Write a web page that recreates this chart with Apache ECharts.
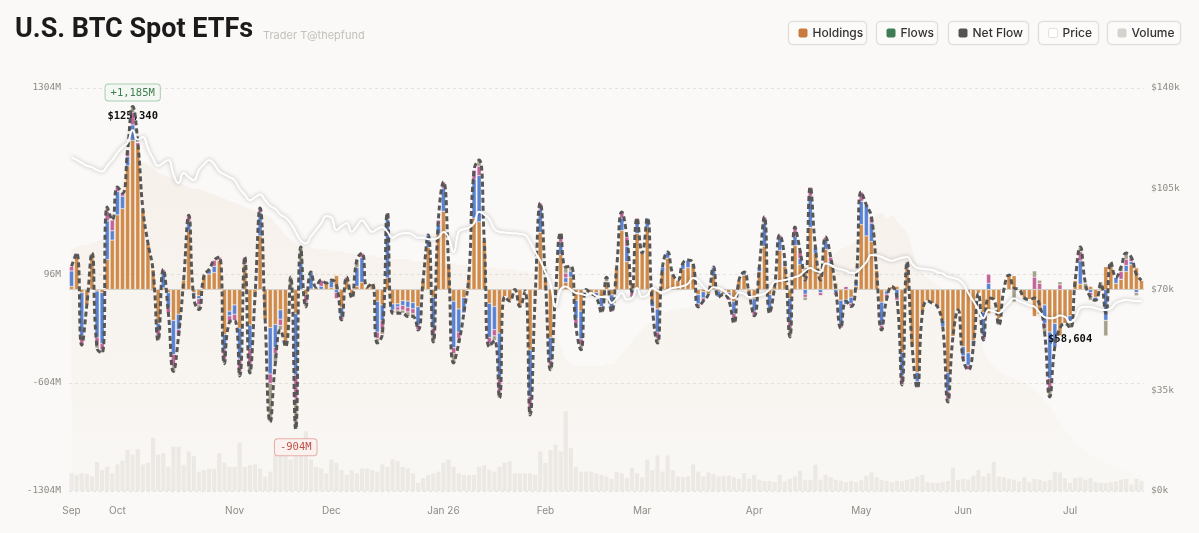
<!DOCTYPE html>
<html>
<head>
<meta charset="utf-8">
<script src="https://cdn.jsdelivr.net/npm/echarts@6/dist/echarts.min.js"></script>
<style>
html, body { margin: 0; padding: 0; background: #faf9f7; }
#chart { width: 1199px; height: 533px; }
</style>
</head>
<body>
<div id="chart"></div>
<script>
// trading days from the first session, skipping weekends and these holidays
const startDate = "2025-09-18"
const holidays = ["2025-11-27", "2025-12-25", "2026-01-01", "2026-01-19", "2026-02-16", "2026-04-03", "2026-05-25", "2026-06-19", "2026-07-03"]
const monthNames = ["Jan 26", "Feb", "Mar", "Apr", "May", "Jun", "Jul", "Aug", "Sep", "Oct", "Nov", "Dec"]

// left axis ticks (M) and right axis step (k)
const flowTicks = [-1304, -604, 96, 1304]
const priceStep = 35

// net flow per day, $M
const netFlow = [
	150, 236, -360, -100, 236, -380, -410, 534, 450, 663, 624, 900, 1185, 950, 520, 300, 120, -330, 130, -150,
	-530, -300, 60, 480, -60, -130, 90, 130, 190, 210, -480, -210, -200, -560, 210,
	-540, -50, 527, -197, -857, -476, -262, -370, 81, -904, 275, -113, 113, 16, 61, 42, 61, 30, -197, 81,
	-55, 191, 236, 16, 40, -346, -290, 495, -153, -153, -153, -175, -175, -262, 60,
	353, -340, 450, 696, 171, -476, -346, -153, 100, 773, 838, 320, -370, -330, -702, -47, -75, 0, -110, -10,
	-812, -47, 560, 61, -520, -25, 366, 146, 150, -240, -390, 0, -25, -50, -150, 80,
	-145, 146, 502, 340, -15, 463, 236, 463, -113, -346, 146, 243, 100, 61, 171, 191, 171, -113, -75, -30,
	146, -50, -30, -70, -217, 60, 113, -30, -170, 146, 470, -153, 20, 353, 190, -307, 404,
	250, 61, 663, 275, 61, 340, 210, 0, -250, -75, -110, 61, 631, 547, 470, 126, -262, -60, 20, -50,
	-618, 178, -370, -637, -153, -75, -90, -113, -240, -728, -305, -133, -450, -520, -370, -25,
	-327, -55, -65, -230, 0, 94, 10, 0, -55, -65, -55, -100, -280, -695, -370, -250, -220, -250, 60, 275,
	40, -50, -70, 40, -153, 178, 80, 146, 236, 210, 100, 60
]
// blue slice
const fbtc = [
	100, 0, -280, 0, 0, -300, -330, 250, 60, 150, 80, 60, 100, 0, 0, 0, 0, -40, 100, -100,
	-220, -100, 0, 60, -20, -20, 0, 30, 40, 0, -100, -30, -60, -200, 0,
	-150, 0, 150, 0, -300, -150, -60, 0, 0, -400, 180, 0, 110, 0, 20, 0, 50, -20, -60, 0,
	0, 120, 160, 0, 0, -200, -100, 380, -40, -20, -30, -40, -40, -120, 0,
	80, -200, 60, 150, 0, -300, -150, -100, 0, 250, 300, 0, -220, -150, -300, 0, 0, 0, 0, 0,
	-300, 0, 150, 0, -150, 0, 80, 30, 40, -120, -180, 0, 0, -30, -60, 0,
	-80, 0, 80, 100, -20, 80, 0, 60, -40, -150, 30, 40, 0, 0, 40, 50, 0, -60, -40, 0,
	60, -40, 0, -30, -80, 0, 20, 0, -80, 30, 150, -100, 0, 80, 40, -150, 60,
	40, -30, 200, 40, -20, 60, 30, -20, -150, -30, -40, 40, 150, 200, 120, 0, -150, -20, 0, -50,
	-150, 20, 0, -60, 0, 0, 0, 0, -40, -120, 0, 0, -60, -80, -40, 0,
	-150, 40, 0, 0, 0, 0, 0, 0, 0, 0, 0, 0, -120, -300, -150, 0, 0, -40, 0, 150,
	0, -20, -20, 0, -200, 0, 40, 0, 40, 20, -20, 0
]
// pink slice
const arkb = [
	30, 20, -60, 0, 0, -50, -40, 60, 70, 30, 20, 40, 80, 20, 0, 0, 0, -40, 20, -30,
	-80, -40, 0, 40, -20, -40, 0, 0, 40, 20, -60, -40, -40, -80, 50,
	-120, 0, 30, 0, -60, -40, -40, 0, 0, -150, 0, -50, 0, 0, 40, 0, 0, -40, -20, 20,
	0, 0, 30, 0, 0, -40, -60, 40, -20, -20, -30, -30, -30, -30, 0,
	0, -40, 30, 40, 0, -40, -40, 0, 0, 60, 60, 0, -40, -40, -80, 0, 0, 0, 0, 0,
	-80, 0, 40, 0, -30, 0, 40, 30, 0, -30, -40, 0, 0, 0, -20, 0,
	-30, 0, 40, 60, -30, 20, 0, 0, 0, -40, 0, 0, 0, 0, 0, 0, 0, -20, -20, 0,
	0, 0, 0, -20, -40, 0, 0, 0, -30, 0, 40, -20, 0, 20, 0, -60, 60,
	50, -20, 60, 0, -20, 20, 30, -20, -30, 20, -20, 0, 60, 0, 40, 0, -30, -30, 0, -20,
	-60, 0, 0, -40, 0, 0, 0, 0, 0, -50, 0, 0, -20, -30, 0, 0,
	-30, 60, 0, 0, 0, 0, 0, 0, 0, 0, 80, 40, -30, -80, 0, 30, 0, 0, 0, 60,
	0, -20, 0, 0, 0, 0, 0, 50, 40, 30, 0, 0
]
// grey slice
const gbtc = [
	0, 0, 0, 0, 0, -20, -20, 30, 0, 0, 0, 0, 40, 0, 0, 0, -10, -30, 0, 0,
	-30, 0, 0, 0, 0, -30, 0, 0, 0, 0, -30, 0, 0, -30, 0,
	-40, 0, 0, 0, -250, -60, -30, 0, 81, -200, 100, -30, 0, 0, 0, 0, 0, 0, 0, 0,
	0, 50, 0, 0, 0, -30, -30, 0, 0, -20, -20, -30, -20, 0, 0,
	0, -50, 0, 0, 0, -60, -30, 0, 0, 0, 40, 0, -20, -30, -40, 0, 0, 0, 0, 0,
	-40, 0, 0, 0, -30, 0, 20, 40, 30, -20, -30, 0, 0, 0, -20, 30,
	0, 0, 0, 0, 0, 0, 0, 0, 0, -30, 0, 0, 0, 0, 0, 0, 0, 0, 0, 0,
	0, 0, -20, 0, -20, 0, 0, 0, 0, 0, 0, 0, 0, 0, 0, -40, 0,
	0, -20, 0, 0, 0, 0, 0, 0, 0, 0, 0, 0, 0, 0, 0, 0, 0, 0, 0, 0,
	0, 20, 0, 0, 0, 0, 0, 0, 0, -20, 0, 0, 0, 0, 0, 0,
	0, 0, 0, -40, 0, 0, -80, 0, 0, 0, 40, 20, -30, -40, 0, 20, 0, -40, 0, 30,
	40, -30, 0, 50, -100, 0, 0, 30, 40, 0, -20, 0
]
// BTC price, $k
const price = [
	116, 115, 114, 113, 112.5, 111.5, 111, 113, 115, 117.5, 119.5, 121, 125.34, 122, 123, 119, 115.5, 113, 114, 115,
	110, 107, 110.5, 109, 108, 111.5, 113.5, 115, 113.5, 111, 110, 109, 108, 105, 103,
	101, 102, 103, 101, 99, 98, 96, 95, 93, 90, 87, 86, 88.5, 90.7, 93, 95.5, 95, 90.7, 92, 93,
	90, 92, 94, 92, 90, 91, 91.7, 90, 88, 89, 89.5, 89.6, 89, 88, 88,
	87.5, 87.5, 88, 90, 88, 83, 90, 91, 91.5, 93, 97, 96, 94.5, 91, 90, 89.8, 89.6, 89.5, 89.3, 89,
	86.5, 83, 80, 76, 72, 64, 70, 71, 70, 68.8, 68.5, 68, 68.8, 67.8, 67.4, 67.4,
	65.3, 67, 68.8, 66.5, 67, 70.5, 67.4, 68, 70.5, 69.5, 69, 69.8, 70.5, 70.8, 71.2, 72, 74, 73, 71, 69.6,
	70.8, 70.5, 69.6, 68, 67, 69, 68.5, 67.4, 67.6, 68, 68.5, 70, 72.6, 73, 73.3, 73.8, 74.3,
	75, 76.5, 77.5, 76.5, 76, 79, 78.5, 77.5, 77, 76.5, 75.7, 76, 77.5, 79.5, 82, 81.8, 81.3, 80.5, 80, 80.5,
	81, 81.3, 79, 77.5, 77.2, 77, 76.8, 76, 75.5, 74.5, 74, 73.5, 72, 68.8, 66, 63,
	60, 62.9, 62.5, 61.8, 63.5, 65.3, 67, 66, 65.3, 64.5, 64, 62, 60.4, 60, 60.2, 61, 60.5, 58.604, 60, 63.6,
	64, 64, 63.5, 63, 62.9, 63.5, 65.3, 66, 66.4, 66.2, 66, 66
]
// total holdings, $B
const holdings = [
	120, 121, 122, 122, 123, 124, 125, 130, 138, 146, 154, 160, 164, 163, 163, 162, 160, 158, 157, 156,
	155, 154, 152, 151, 150, 150, 149, 148, 147, 146, 145, 144, 143, 142, 141,
	140, 139, 138, 137, 136, 133, 130, 127, 125, 123, 122, 121, 121, 120, 120, 120, 119, 119, 119, 118,
	118, 118, 117, 117, 117, 116, 116, 116, 115, 115, 115, 115, 114, 114, 114,
	114, 114, 113, 113, 113, 113, 112, 112, 112, 112, 112, 111, 111, 111, 110, 110, 110, 110, 109, 109,
	107, 104, 100, 95, 88, 80, 72, 66, 63, 62, 62, 62, 62, 62, 62, 63,
	63, 65, 68, 71, 74, 77, 80, 82, 84, 86, 88, 89, 90, 90, 91, 91, 92, 92, 93, 94,
	95, 96, 97, 98, 99, 100, 100, 101, 101, 102, 102, 103, 103, 104, 104, 105, 105,
	106, 107, 108, 110, 112, 114, 116, 118, 120, 121, 122, 124, 126, 129, 133, 137, 138, 135, 137, 134,
	131, 128, 120, 112, 108, 106, 104, 102, 100, 98, 96, 94, 92, 90, 88, 86,
	70, 65, 62, 60, 58, 57, 56, 55, 54, 52, 50, 48, 45, 42, 38, 34, 30, 27, 24, 22,
	20, 18, 16, 15, 14, 13, 12, 11, 10, 9, 8, 8
]
// traded volume, $B
const volume = [
	2.2, 2.0, 2.2, 2.1, 1.8, 3.6, 2.6, 3.0, 2.2, 3.3, 3.75, 5.1, 4.5, 5.2, 3.3, 3.5, 6.6, 4.5, 4.7, 3.0,
	5.5, 5.5, 3.25, 4.9, 4.3, 2.4, 2.6, 2.75, 2.75, 4.7, 3.5, 3.0, 3.0, 6.0, 3.0, 3.2, 3.3, 2.8, 1.8, 2.4,
	4.5, 4.6, 4.5, 3.9, 4.5, 4.5, 7.4, 3.9, 3.0, 2.8, 2.2, 3.9, 3.5, 2.6, 2.0, 2.6, 2.2, 2.8, 2.8, 2.6,
	2.4, 3.3, 3.0, 3.9, 3.7, 3.0, 2.8, 2.2, 1.0, 1.6, 2.0, 2.2, 2.4, 3.5, 3.9, 3.0, 2.2, 2.0, 2.0, 2.0,
	3.0, 3.2, 2.6, 2.4, 3.0, 3.5, 3.7, 2.2, 2.2, 2.2, 2.2, 2.0, 4.9, 3.5, 5.1, 5.75, 4.9, 9.9, 5.3, 3.0,
	2.4, 2.4, 2.4, 2.2, 2.0, 1.8,
	1.5, 2.4, 2.2, 1.6, 2.9, 2.2, 1.7, 3.9, 2.6, 4.4, 2.4, 4.4, 2.6, 1.8, 1.7, 1.8, 3.3, 2.4, 1.8, 2.3,
	2.1, 1.8, 1.9, 1.9, 1.7, 1.5, 2.2, 1.5, 2.0, 1.4, 1.25, 1.25, 1.1, 2.0, 1.2, 1.5, 1.8, 2.5, 1.4, 1.4,
	3.25, 1.4, 2.0, 1.7, 1.4, 1.25, 1.1, 1.25, 1.1, 1.4, 1.9, 2.3, 1.7, 1.4, 1.25, 1.1, 1.25, 1.2, 1.4, 1.5,
	1.8, 2.0, 1.1, 1.0, 1.0, 1.1, 1.25, 2.9, 1.4, 1.5, 1.4, 1.9, 2.6, 1.8, 2.2, 3.6, 1.8, 1.7, 1.5, 1.4,
	1.2, 1.7, 1.1, 1.5, 1.4, 1.2, 1.4, 2.4, 2.3, 1.6, 1.0, 1.6, 1.7, 1.4, 1.6, 1.1, 1.0, 1.0, 1.1, 1.2,
	1.4, 1.5, 0.8, 1.5, 1.25
]

const legendNames = ["Holdings", "Flows", "Net Flow", "Price", "Volume"]
const legendColors = ["#c97b3f", "#3f7d56", "#555350", "#ffffff", "#d6d3cc"]

function tradingDays(start, n) {
	let days = []
	let d = new Date(start + "T00:00:00Z")
	while (days.length < n) {
		let s = d.toISOString().slice(0, 10)
		let wd = d.getUTCDay()
		if (wd != 0 && wd != 6 && holidays.indexOf(s) < 0) {
			days.push(s)
		}
		d.setUTCDate(d.getUTCDate() + 1)
	}
	return days
}

let dates = tradingDays(startDate, netFlow.length)
// the orange slice is what the other funds leave of the day's net flow
let ibit = netFlow.map(function (v, i) {
	return v - fbtc[i] - arkb[i] - gbtc[i]
})

let monoFont = "DejaVu Sans Mono"
let axisGrey = "#8f8b85"

let firstOfMonth = function (index) {
	return index == 0 || dates[index].slice(0, 7) != dates[index - 1].slice(0, 7)
}

// legend buttons
let legendWidths = [78, 61, 80, 60, 73]
let legendX = [788, 876, 948, 1038, 1107]
let graphics = [
	{type: "text", left: 15, top: 17, style: {text: "U.S. BTC Spot ETFs", font: "bold 27px Roboto", fill: "#1b1b1b"}},
	{type: "text", left: 263, top: 30, style: {text: "Trader T@thepfund", font: "11px Inter", fill: "#c4c0ba"}}
]
legendNames.forEach(function (name, i) {
	graphics.push({
		type: "group",
		left: legendX[i],
		top: 21,
		children: [
			{type: "rect", shape: {x: 0, y: 0, width: legendWidths[i], height: 23, r: 4},
				style: {fill: "#fcfbfa", stroke: "#e0ddd7", lineWidth: 1, shadowBlur: 2, shadowColor: "rgba(0,0,0,0.06)"}},
			{type: "rect", shape: {x: 10, y: 7, width: 9, height: 9, r: 2},
				style: {fill: legendColors[i], stroke: name == "Price" ? "#e2dfda" : null, lineWidth: 1}},
			{type: "text", x: 24, y: 12, style: {text: name, font: "500 12px Inter", fill: "#333", verticalAlign: "middle"}}
		]
	})
})

function flowBar(name, data, color) {
	return {
		name: name,
		type: "bar",
		stack: "flow",
		data: data,
		barCategoryGap: "18%",
		itemStyle: {color: color, borderColor: "rgba(255,255,255,0.7)", borderWidth: 0.4},
		z: 3
	}
}

let chart = echarts.init(document.getElementById("chart"))
chart.setOption({
	backgroundColor: "#faf9f7",
	animation: false,
	graphic: graphics,
	grid: {left: 69, right: 55, top: 88, bottom: 42},
	xAxis: [
		{
			type: "category",
			data: dates,
			axisLine: {show: false},
			axisTick: {show: false},
			axisLabel: {
				interval: firstOfMonth,
				margin: 15,
				color: axisGrey,
				fontFamily: "Inter",
				fontSize: 10,
				formatter: function (v) {
					return monthNames[parseInt(v.slice(5, 7)) - 1]
				}
			}
		},
		{type: "category", data: dates, show: false}
	],
	yAxis: [
		{
			type: "value",
			min: -1304,
			max: 1304,
			axisLine: {show: false},
			axisTick: {show: false, customValues: flowTicks},
			axisLabel: {
				customValues: flowTicks,
				margin: 8,
				color: axisGrey,
				fontFamily: monoFont,
				fontSize: 9.5,
				formatter: function (v) {
					return v + "M"
				}
			},
			splitLine: {show: true, lineStyle: {type: [3, 3], color: "#e6e3de"}}
		},
		{
			type: "value",
			min: 0,
			max: 140,
			interval: priceStep,
			position: "right",
			axisLine: {show: false},
			axisTick: {show: false},
			splitLine: {show: false},
			axisLabel: {
				margin: 7,
				color: axisGrey,
				fontFamily: monoFont,
				fontSize: 9.5,
				formatter: function (v) {
					return "$" + v + "k"
				}
			}
		},
		{type: "value", min: 0, max: 50, show: false},
		{type: "value", min: 0, max: 200, show: false}
	],
	series: [
		{
			name: "Holdings",
			type: "line",
			data: holdings,
			yAxisIndex: 3,
			smooth: true,
			symbol: "none",
			lineStyle: {width: 0},
			areaStyle: {
				color: new echarts.graphic.LinearGradient(0, 0, 0, 1, [
					{offset: 0, color: "rgba(214,170,130,0.16)"},
					{offset: 1, color: "rgba(214,170,130,0.03)"}
				])
			},
			z: 1
		},
		{
			name: "Volume",
			type: "bar",
			data: volume,
			xAxisIndex: 1,
			yAxisIndex: 2,
			barCategoryGap: "18%",
			itemStyle: {color: "rgba(190,186,178,0.22)"},
			z: 2
		},
		flowBar("IBIT", ibit, "#d08b4a"),
		flowBar("FBTC", fbtc, "#5a82d3"),
		flowBar("ARKB", arkb, "#c2649a"),
		flowBar("GBTC", gbtc, "#a59f8a"),
		{
			name: "Net Flow",
			type: "line",
			data: netFlow,
			smooth: true,
			symbol: "none",
			lineStyle: {color: "#565656", width: 3, type: [5, 3], cap: "butt"},
			z: 5,
			markLine: {
				silent: true,
				symbol: "none",
				label: {show: false},
				lineStyle: {color: "#d3cfc9", type: "solid", width: 1},
				data: [{yAxis: 0}]
			},
			markPoint: {
				symbol: "circle",
				symbolSize: 2,
				itemStyle: {color: "rgba(0,0,0,0)"},
				data: [
					{
						type: "max",
						label: {
							position: "top",
							distance: 5,
							formatter: function (p) {
								return "+" + p.value.toLocaleString("en-US") + "M"
							},
							color: "#3f7d52",
							backgroundColor: "#f4f8f3",
							borderColor: "#a9ccb2",
							borderWidth: 1,
							borderRadius: 3,
							padding: [3, 5, 2, 5],
							fontFamily: monoFont,
							fontSize: 10.5
						}
					},
					{
						type: "min",
						label: {
							position: "bottom",
							distance: 9,
							formatter: function (p) {
								return p.value.toLocaleString("en-US") + "M"
							},
							color: "#c0504a",
							backgroundColor: "#fbf2f0",
							borderColor: "#e6aca6",
							borderWidth: 1,
							borderRadius: 3,
							padding: [3, 5, 2, 5],
							fontFamily: monoFont,
							fontSize: 10.5
						}
					}
				]
			}
		},
		{
			name: "Price",
			type: "line",
			data: price,
			yAxisIndex: 1,
			smooth: true,
			symbol: "none",
			lineStyle: {color: "#ffffff", width: 2, shadowColor: "rgba(0,0,0,0.28)", shadowBlur: 4},
			z: 6,
			markPoint: {
				symbol: "circle",
				symbolSize: 2,
				itemStyle: {color: "rgba(0,0,0,0)"},
				label: {
					color: "#111",
					fontWeight: "bold",
					fontFamily: monoFont,
					fontSize: 10.5,
					formatter: function (p) {
						return "$" + Math.round(p.value * 1000).toLocaleString("en-US")
					}
				},
				data: [
					{type: "max", label: {position: "top", distance: 7}},
					{type: "min", label: {position: "bottom", distance: 10}}
				]
			}
		}
	]
})
</script>
</body>
</html>
